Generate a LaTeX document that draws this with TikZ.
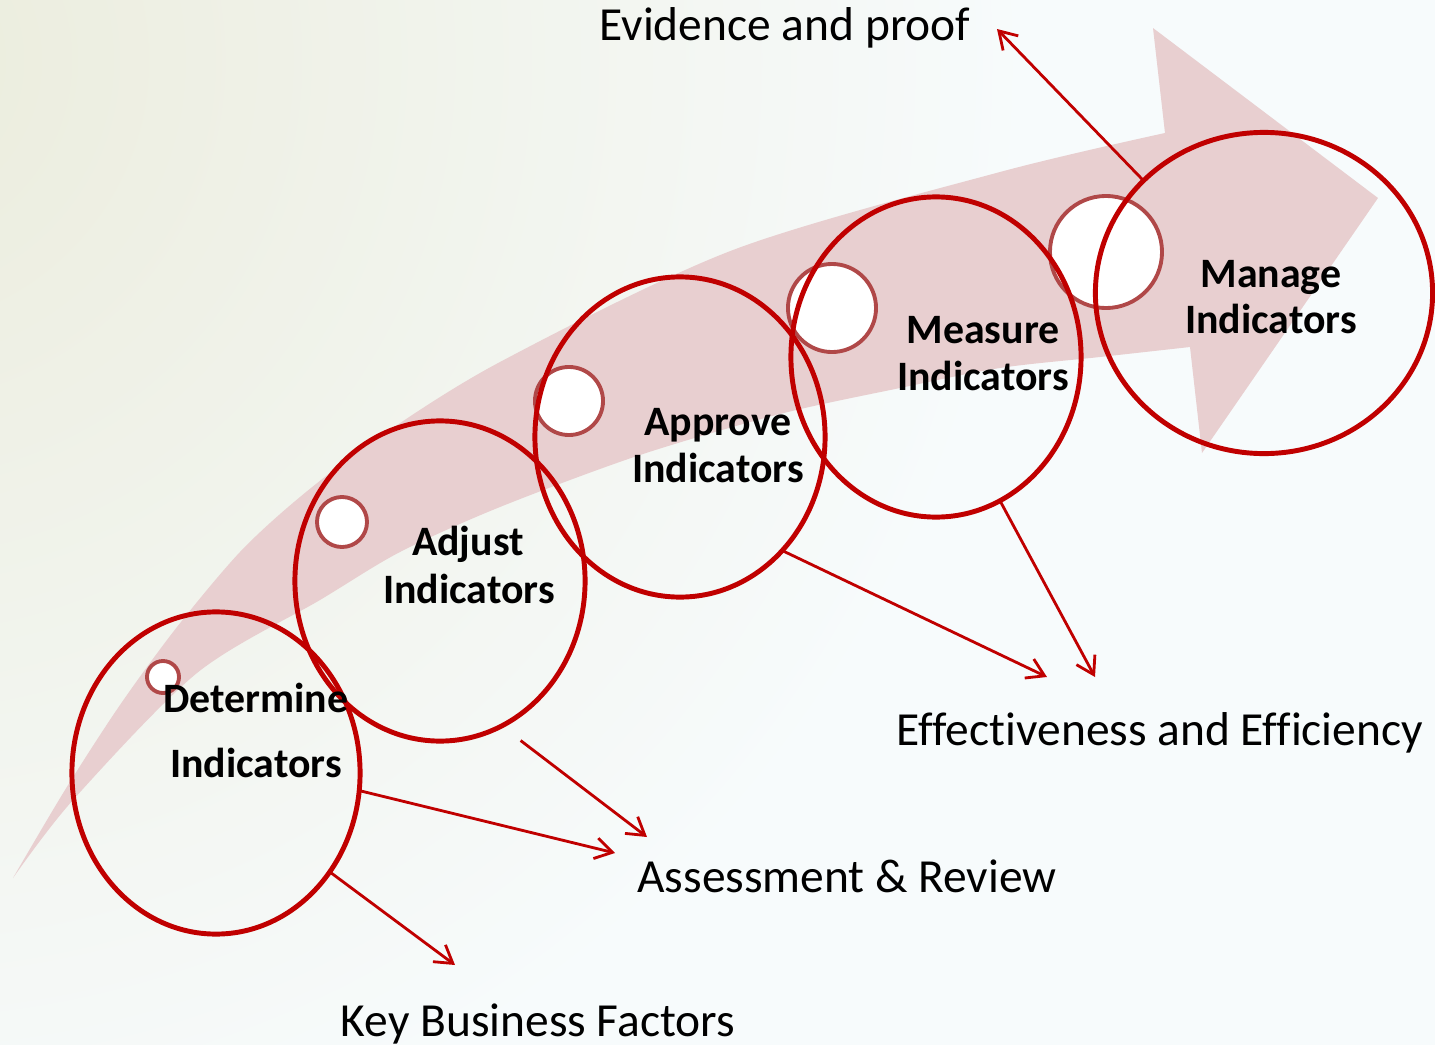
\documentclass[tikz,border=0pt]{standalone}
\usepackage{fontspec}
\setmainfont{Carlito}[Ligatures=NoCommon]
\usetikzlibrary{shapes.geometric,arrows.meta}
\definecolor{kpired}{RGB}{192,0,0}
\definecolor{bandpink}{RGB}{232,207,208}
\definecolor{ringred}{RGB}{176,72,72}
\definecolor{paper}{RGB}{247,251,252}
\definecolor{tint}{RGB}{235,236,220}

\begin{document}
\begin{tikzpicture}[x=0.01cm,y=-0.01cm,
  stage/.style={ellipse, draw=kpired, line width=1.4pt, inner sep=0pt, outer sep=0pt},
  bead/.style={circle, draw=ringred, fill=white, line width=1.1pt, inner sep=0pt, outer sep=0pt},
  stagetext/.style={font=\fontsize{11.9pt}{13pt}\selectfont\bfseries, anchor=base, inner sep=0pt},
  outtext/.style={font=\fontsize{13.5pt}{16pt}\selectfont, anchor=base, inner sep=0pt},
  conn/.style={draw=kpired, line width=0.8pt, -{Straight Barb[length=0.17cm,width=0.21cm]}}]

% page and soft background
\useasboundingbox (0,0) rectangle (1435,1045);
\fill[paper] (0,0) rectangle (1435,1045);
\begin{scope}
  \clip (0,0) rectangle (1435,1045);
  \shade[inner color=tint, outer color=paper] (-120,60) circle (1150);
\end{scope}

% the sweeping process arrow
\fill[bandpink]
  plot[smooth] coordinates {(13,878) (65,790) (120,705) (177,627) (240,552) (300,497) (375,440) (500,362) (733,250) (1000,172) (1165,133)}
  -- (1153,28) -- (1378,198) -- (1202,453)
  -- plot[smooth] coordinates {(1190,347) (1100,357) (1000,368) (900,388) (780,414) (640,455) (500,507) (400,552) (320,600) (197,673) (73,800) (13,878)}
  -- cycle;

% small beads along the arrow
\node[bead, minimum size=0.32cm] (b1) at (163,677) {};
\node[bead, minimum size=0.50cm] (b2) at (342,522) {};
\node[bead, minimum size=0.68cm] (b3) at (569,401) {};
\node[bead, minimum size=0.88cm] (b4) at (832,308) {};
\node[bead, minimum size=1.12cm] (b5) at (1106,252) {};

% stage rings
\node[stage, minimum width=2.88cm, minimum height=3.22cm] (det) at (216,773) {};
\node[stage, minimum width=2.90cm, minimum height=3.20cm] (adj) at (440,581) {};
\node[stage, minimum width=2.90cm, minimum height=3.20cm] (app) at (680,437) {};
\node[stage, minimum width=2.90cm, minimum height=3.20cm] (mea) at (936,357) {};
\node[stage, minimum width=3.37cm, minimum height=3.21cm] (man) at (1264,293) {};

% stage labels
\node[stagetext] (det1) at (256,712) {Determine};
\node[stagetext] (det2) at (256,777) {Indicators};
\node[stagetext] (adj1) at (468,555) {Adjust};
\node[stagetext] (adj2) at (469,603) {Indicators};
\node[stagetext] (app1) at (718,435) {Approve};
\node[stagetext] (app2) at (718,482) {Indicators};
\node[stagetext] (mea1) at (983,343) {Measure};
\node[stagetext] (mea2) at (983,390) {Indicators};
\node[stagetext] (man1) at (1271,287) {Manage};
\node[stagetext] (man2) at (1271,333) {Indicators};

% outcome labels
\node[outtext] (evi) at (785,40) {Evidence and proof};
\node[outtext] (eff) at (1160,745) {Effectiveness and Efficiency};
\node[outtext] (ass) at (847,892) {Assessment \& Review};
\node[outtext] (key) at (538,1036) {Key Business Factors};

% arrow tips
\coordinate (t1) at (997,29);
\coordinate (t2) at (1095,677);
\coordinate (t3) at (1047,677);
\coordinate (t4) at (647,837);
\coordinate (t5) at (615,853);
\coordinate (t6) at (455,965);

% connectors
\draw[conn] (man.137) -- (t1);
\draw[conn] (mea.-66) -- (t2);
\draw[conn] (app.-48) -- (t3);
\draw[conn, shorten <=0.24cm] (adj.-67.5) -- (t4);
\draw[conn] (det.-7) -- (t5);
\draw[conn] (det.-41) -- (t6);
\end{tikzpicture}
\end{document}
